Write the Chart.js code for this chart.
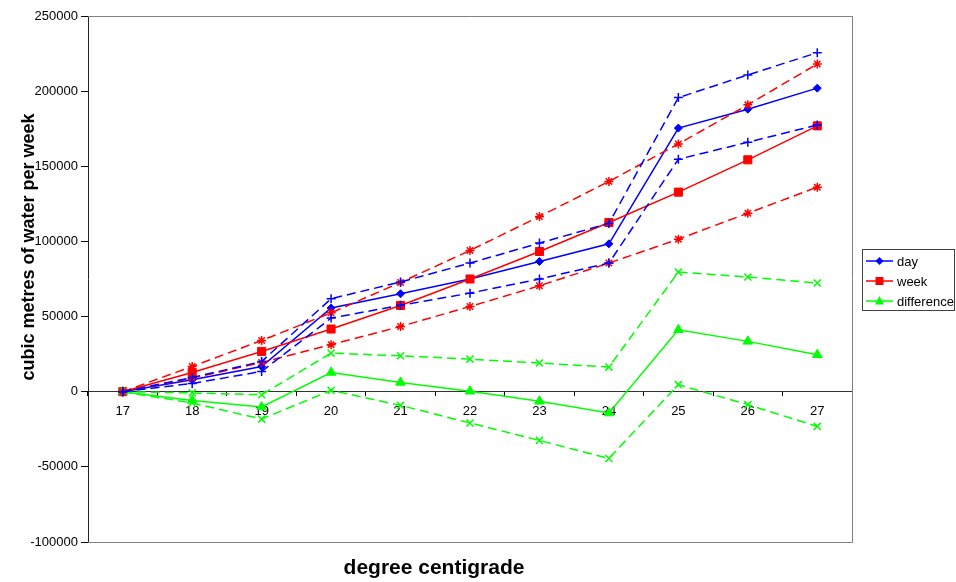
<!DOCTYPE html>
<html>
<head>
<meta charset="utf-8">
<script src="https://cdn.jsdelivr.net/npm/chart.js@4"></script>
<style>
  html, body { margin: 0; padding: 0; background: #fff; }
  #wrap { width: 956px; height: 582px; }
</style>
</head>
<body>
<div id="wrap"><canvas id="waterChart" width="956" height="582"></canvas></div>
<script>
// Water use vs temperature
const temps = ['17', '18', '19', '20', '21', '22', '23', '24', '25', '26', '27'];

const day      = [0, 8000, 16800, 55700, 65200, 75000, 86700, 98400, 175400, 188000, 202000];
const dayHigh  = [0, 9500, 20100, 61900, 73000, 85600, 98900, 112000, 195700, 210800, 225600];
const dayLow   = [0, 5500, 13500, 49000, 57500, 65600, 75000, 85600, 154700, 166000, 177500];

const week     = [0, 12800, 26800, 41700, 57400, 75000, 93300, 112600, 132800, 154300, 176900];
const weekHigh = [0, 16800, 34100, 52500, 72700, 94000, 116600, 139900, 164900, 190900, 218100];
const weekLow  = [0, 9000, 19500, 31300, 43400, 56700, 70500, 85600, 101500, 118800, 136100];

const diff     = [0, -5800, -10200, 12800, 6200, 300, -6400, -14200, 41200, 33500, 24600];
const diffHigh = [0, -800, -2000, 25700, 23900, 21700, 19100, 16400, 79600, 76300, 72300];
const diffLow  = [0, -7500, -18200, 900, -9100, -20800, -32400, -44400, 4700, -8600, -23100];

const legendNames = ['day', 'week', 'difference'];

const BLUE = '#0000ff';
const RED = '#ff0000';
const GREEN = '#00ff00';
const DASH = [9, 5];
const FONT = '"Liberation Sans", Arial, sans-serif';

function solid(label, data, color, style, radius) {
  return {
    label: label,
    data: data,
    borderColor: color,
    backgroundColor: color,
    borderWidth: 1.5,
    pointStyle: style,
    pointRadius: radius,
    pointBorderWidth: 1,
    pointBorderColor: color,
    pointBackgroundColor: color,
    tension: 0
  };
}

function dashed(label, data, color, style) {
  return {
    label: label,
    data: data,
    borderColor: color,
    backgroundColor: color,
    borderWidth: 1.5,
    borderDash: DASH,
    pointStyle: style,
    pointRadius: style === 'crossRot' ? 5 : 4.5,
    pointBorderWidth: 1.5,
    pointBorderColor: color,
    tension: 0
  };
}

// frame, axis titles and the little legend box
const extras = {
  id: 'extras',
  beforeDraw(chart) {
    const ctx = chart.ctx;
    ctx.save();
    ctx.fillStyle = '#fff';
    ctx.fillRect(0, 0, chart.width, chart.height);
    ctx.restore();
  },
  beforeDatasetsDraw(chart) {
    const ctx = chart.ctx;
    const a = chart.chartArea;
    ctx.save();
    ctx.strokeStyle = '#808080';
    ctx.lineWidth = 1;
    ctx.beginPath();
    ctx.moveTo(a.left, a.top + 0.5);
    ctx.lineTo(a.right + 0.5, a.top + 0.5);
    ctx.lineTo(a.right + 0.5, a.bottom + 0.5);
    ctx.lineTo(a.left, a.bottom + 0.5);
    ctx.stroke();
    ctx.restore();
  },
  afterDraw(chart) {
    const ctx = chart.ctx;
    ctx.save();
    ctx.fillStyle = '#000';
    ctx.textAlign = 'center';
    ctx.textBaseline = 'middle';

    ctx.font = 'bold 21px ' + FONT;
    ctx.fillText('degree centigrade', 434, 568);

    ctx.translate(29, 247);
    ctx.rotate(-Math.PI / 2);
    ctx.font = 'bold 18px ' + FONT;
    ctx.fillText('cubic metres of water per week', 0, 0);
    ctx.restore();

    // legend
    ctx.save();
    ctx.strokeStyle = '#404040';
    ctx.lineWidth = 1;
    ctx.strokeRect(862.5, 249.5, 92, 61);
    const colors = [BLUE, RED, GREEN];
    legendNames.forEach((name, i) => {
      const y = 261 + i * 20;
      ctx.strokeStyle = colors[i];
      ctx.fillStyle = colors[i];
      ctx.lineWidth = 1.5;
      ctx.beginPath();
      ctx.moveTo(866, y);
      ctx.lineTo(893, y);
      ctx.stroke();
      const cx = 879.5;
      ctx.beginPath();
      if (i === 0) {
        ctx.moveTo(cx, y - 4);
        ctx.lineTo(cx + 4, y);
        ctx.lineTo(cx, y + 4);
        ctx.lineTo(cx - 4, y);
      } else if (i === 1) {
        ctx.rect(cx - 4, y - 4, 8, 8);
      } else {
        ctx.moveTo(cx, y - 5);
        ctx.lineTo(cx + 4.5, y + 3.5);
        ctx.lineTo(cx - 4.5, y + 3.5);
      }
      ctx.closePath();
      ctx.fill();
      ctx.fillStyle = '#000';
      ctx.font = '13px ' + FONT;
      ctx.textAlign = 'left';
      ctx.textBaseline = 'middle';
      ctx.fillText(name, 897, y + 1);
    });
    ctx.restore();
  }
};

const ctx = document.getElementById('waterChart').getContext('2d');
const chart = new Chart(ctx, {
  type: 'line',
  data: {
    labels: temps,
    datasets: [
      dashed('day high', dayHigh, BLUE, 'cross'),
      dashed('day low', dayLow, BLUE, 'cross'),
      dashed('week high', weekHigh, RED, 'star'),
      dashed('week low', weekLow, RED, 'star'),
      dashed('difference high', diffHigh, GREEN, 'crossRot'),
      dashed('difference low', diffLow, GREEN, 'crossRot'),
      solid('difference', diff, GREEN, 'triangle', 5.5),
      solid('week', week, RED, 'rect', 5.7),
      solid('day', day, BLUE, 'rectRot', 4)
    ]
  },
  options: {
    responsive: false,
    animation: false,
    events: [],
    layout: {
      padding: { left: 0, top: 16, right: 104, bottom: 40 }
    },
    plugins: {
      legend: { display: false },
      tooltip: { enabled: false },
      title: { display: false }
    },
    scales: {
      x: {
        type: 'category',
        position: { y: 0 },
        offset: true,
        grid: {
          offset: true,
          drawOnChartArea: false,
          drawTicks: true,
          tickLength: 4,
          color: '#000'
        },
        border: { display: true, color: '#333', width: 1 },
        ticks: {
          color: '#000',
          font: { family: FONT, size: 13 },
          padding: 8,
          maxRotation: 0,
          autoSkip: false
        }
      },
      y: {
        position: 'left',
        min: -100000,
        max: 250000,
        afterFit(scale) { scale.width = 88; },
        grid: {
          drawOnChartArea: false,
          drawTicks: true,
          tickLength: 7,
          color: '#000'
        },
        border: { display: true, color: '#222', width: 1 },
        ticks: {
          stepSize: 50000,
          color: '#000',
          font: { family: FONT, size: 13 },
          padding: 3,
          callback: v => String(v)
        }
      }
    }
  },
  plugins: [extras]
});
</script>
</body>
</html>
